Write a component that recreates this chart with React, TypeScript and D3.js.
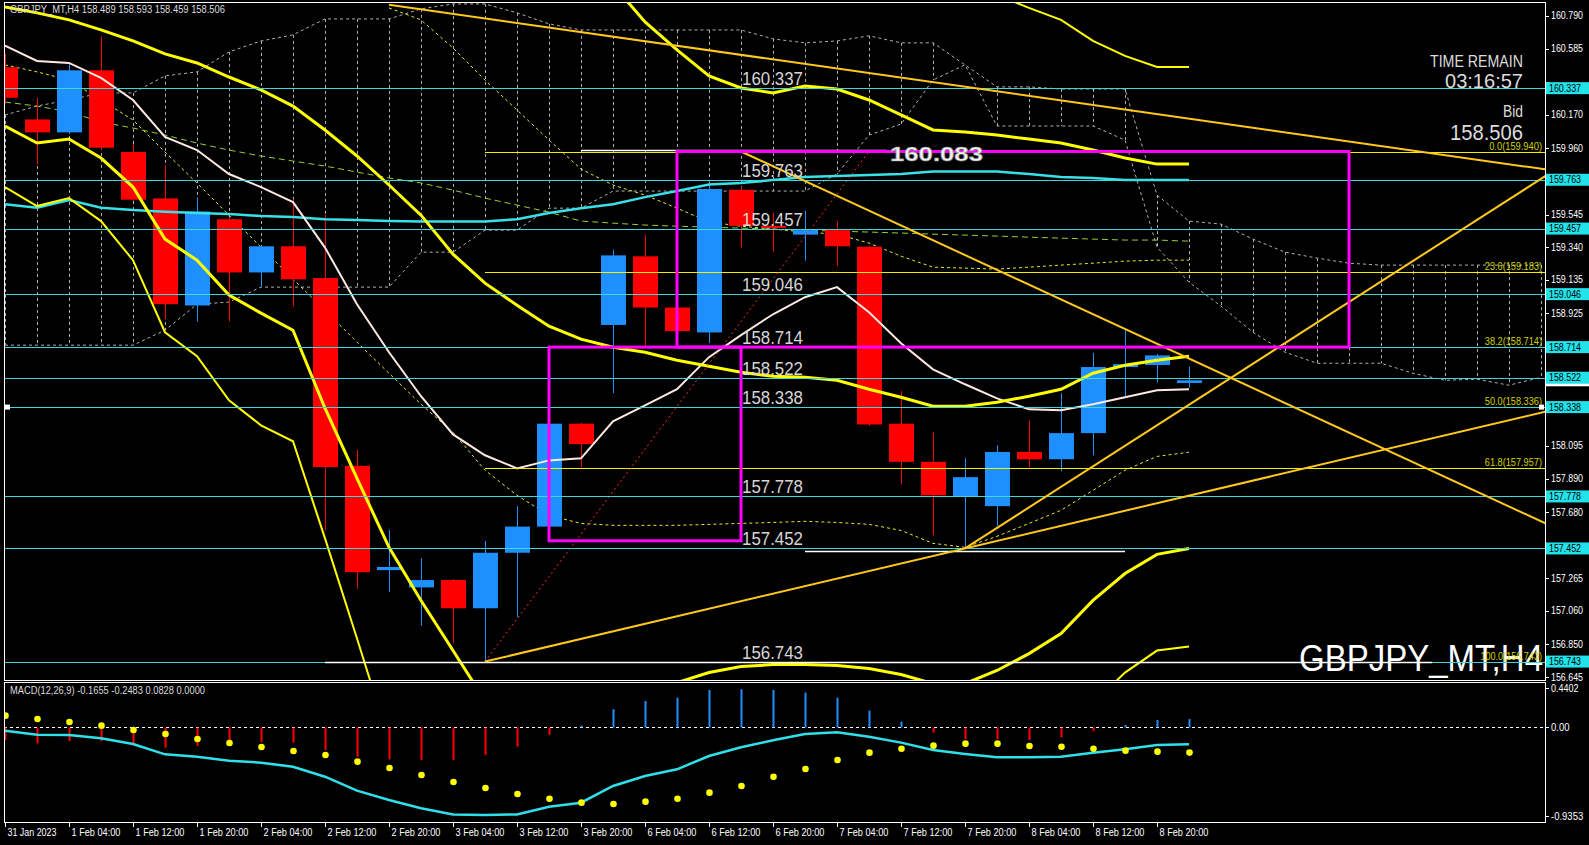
import React from "react";
import * as d3 from "d3";

// ---------- price data (H4 bars, 31 Jan 20:00 .. 9 Feb 00:00) ----------
const barOpen = [160.468,160.141,160.060,160.449,159.937,159.646,158.975,159.515,159.182,159.346,159.147,157.970,157.316,157.208,157.254,157.077,157.425,157.589,158.234,158.853,159.283,158.962,158.806,159.700,159.474,159.419,159.447,159.343,158.234,157.995,157.779,157.717,158.057,158.011,158.175,158.589,158.602,158.489];
const barHigh = [160.552,160.277,160.495,160.659,159.987,159.855,159.651,159.530,159.350,159.638,159.542,158.071,157.567,157.390,157.260,157.499,157.717,158.240,158.240,159.324,159.419,158.970,159.763,159.720,159.555,159.569,159.501,159.350,158.439,158.180,158.017,158.099,158.254,158.425,158.678,158.820,158.670,158.593];
const barLow = [160.240,159.855,160.050,159.950,159.630,158.889,158.875,158.875,159.092,158.971,157.567,157.199,157.180,156.968,156.859,156.743,157.022,157.580,157.962,158.425,158.711,158.805,158.739,159.338,159.311,159.256,159.224,158.220,157.853,157.534,157.452,157.594,157.962,157.936,158.036,158.406,158.493,158.459];
const barClose = [160.277,160.060,160.449,159.964,159.638,158.983,159.564,159.182,159.346,159.139,157.962,157.303,157.336,157.254,157.077,157.425,157.589,158.234,158.106,159.289,158.962,158.814,159.705,159.474,159.460,159.447,159.346,158.229,157.995,157.785,157.899,158.057,158.011,158.175,158.589,158.607,158.662,158.506];

const timeLabels = ["31 Jan 2023","1 Feb 04:00","1 Feb 12:00","1 Feb 20:00","2 Feb 04:00","2 Feb 12:00","2 Feb 20:00","3 Feb 04:00","3 Feb 12:00","3 Feb 20:00","6 Feb 04:00","6 Feb 12:00","6 Feb 20:00","7 Feb 04:00","7 Feb 12:00","7 Feb 20:00","8 Feb 04:00","8 Feb 12:00","8 Feb 20:00"];
const priceTicks = [160.790,160.585,160.375,160.170,159.960,159.755,159.545,159.340,159.135,158.925,158.720,158.510,158.305,158.095,157.890,157.680,157.475,157.265,157.060,156.850,156.645];

// ---------- indicators ----------
const bbMid = [160.846,160.809,160.765,160.702,160.633,160.552,160.495,160.407,160.326,160.225,160.075,159.912,159.730,159.541,159.297,159.115,158.977,158.845,158.764,158.713,158.682,158.632,158.594,158.557,158.531,158.525,158.506,158.450,158.400,158.343,158.343,158.368,158.406,158.450,158.550,158.600,158.632,158.657];
const bbUp2 = [null,null,null,null,null,null,null,null,null,null,null,null,null,null,null,null,null,null,null,160.985,160.752,160.577,160.414,160.338,160.307,160.351,160.332,160.263,160.169,160.075,160.062,160.043,160.018,159.993,159.949,159.899,159.861,159.861];
const bbLo2 = [160.100,159.993,160.018,159.899,159.717,159.391,159.259,159.040,158.927,158.820,158.331,157.891,157.459,157.126,156.812,156.498,156.310,156.216,156.279,156.404,156.530,156.611,156.674,156.712,156.724,156.724,156.718,156.699,156.662,156.605,156.605,156.687,156.793,156.919,157.126,157.295,157.415,157.452];
const bbUp3 = [null,null,null,null,null,null,null,null,null,null,null,null,null,null,null,null,null,null,null,null,null,null,null,null,null,null,null,null,null,null,null,160.922,160.840,160.765,160.633,160.539,160.470,160.470];
const bbLo3 = [159.717,159.598,159.648,159.504,159.259,158.807,158.657,158.381,158.224,158.124,157.515,156.888,156.248,null,null,null,null,null,null,null,null,null,null,null,null,null,null,null,null,null,null,null,null,null,156.480,156.674,156.812,156.837];
const tenkan = [160.604,160.508,160.495,160.401,160.263,160.031,159.949,159.799,159.717,159.623,159.338,158.983,158.682,158.406,158.167,158.036,157.954,158.004,158.017,158.249,158.349,158.450,158.651,158.789,158.920,159.027,159.090,158.933,158.738,158.575,158.481,158.393,158.324,158.318,158.356,158.400,158.444,158.450];
const kijun = [159.610,159.588,159.636,159.588,159.573,159.563,159.555,159.548,159.536,159.529,159.516,159.510,159.504,159.501,159.501,159.501,159.516,159.554,159.585,159.610,159.654,159.692,159.733,159.743,159.761,159.780,159.786,159.792,159.799,159.814,159.814,159.814,159.799,159.780,159.774,159.761,159.761,159.761];
const greenMa = [160.250,160.225,160.188,160.125,160.087,160.043,159.993,159.949,159.912,159.880,159.849,159.811,159.774,159.743,159.698,159.648,159.604,159.560,159.504,159.491,159.479,159.472,159.466,159.460,159.454,159.447,159.441,159.435,159.429,159.422,159.416,159.410,159.403,159.397,159.391,159.385,159.385,159.378];
const envLow = [160.483,160.439,160.388,160.263,160.138,159.937,159.742,159.541,159.341,159.140,158.945,158.745,158.550,158.356,158.180,157.942,157.785,157.659,157.609,157.597,157.597,157.597,157.603,157.609,157.615,157.622,157.615,157.603,157.565,157.484,157.459,157.528,157.609,157.691,157.816,157.942,158.029,158.055];
const envHigh = [null,null,null,null,null,null,null,null,null,null,null,null,160.840,160.765,160.589,160.388,160.200,160.012,159.830,159.730,159.667,159.585,159.498,159.472,159.454,159.435,159.422,159.366,159.284,159.215,159.209,159.203,159.215,159.228,159.240,159.253,159.259,159.259];
const spanTop = [160.169,160.225,160.263,160.307,160.307,160.414,160.439,160.564,160.633,160.671,160.771,160.771,160.771,160.834,160.865,160.865,160.809,160.740,160.702,160.702,160.702,160.702,160.702,160.702,160.646,160.621,160.633,160.665,160.621,160.621,160.483,160.345,160.345,160.332,160.332,160.332,159.667,159.504,159.485,159.391,159.309,159.272,159.240,159.228,159.228,159.228,159.228,159.228,159.228];
const spanBot = [158.726,158.726,158.726,158.726,158.726,158.820,158.983,158.996,159.090,159.090,159.090,159.090,159.090,159.309,159.309,159.447,159.447,159.585,159.585,159.692,159.692,159.692,159.692,159.692,159.692,159.692,159.799,160.043,160.112,160.388,160.483,160.100,160.100,160.100,160.100,160.012,159.341,159.121,158.971,158.807,158.682,158.613,158.613,158.613,158.550,158.506,158.513,158.475,158.525];

// ---------- MACD(12,26,9) ----------
const macdMain = [-0.031,-0.071,-0.074,-0.107,-0.163,-0.266,-0.289,-0.328,-0.348,-0.388,-0.487,-0.625,-0.718,-0.800,-0.860,-0.866,-0.860,-0.784,-0.744,-0.579,-0.480,-0.414,-0.282,-0.196,-0.127,-0.064,-0.048,-0.091,-0.150,-0.223,-0.262,-0.295,-0.295,-0.289,-0.249,-0.216,-0.173,-0.1655];
const macdSignal = [0.117,0.084,0.054,0.018,-0.025,-0.064,-0.114,-0.154,-0.193,-0.233,-0.272,-0.338,-0.401,-0.470,-0.540,-0.599,-0.658,-0.705,-0.744,-0.757,-0.734,-0.705,-0.645,-0.579,-0.487,-0.411,-0.322,-0.249,-0.210,-0.180,-0.160,-0.160,-0.183,-0.190,-0.210,-0.229,-0.239,-0.2483];
const macdHist = [-0.124,-0.157,-0.134,-0.134,-0.157,-0.200,-0.183,-0.183,-0.144,-0.150,-0.223,-0.289,-0.315,-0.322,-0.322,-0.272,-0.190,-0.074,0.018,0.180,0.262,0.295,0.371,0.378,0.371,0.345,0.295,0.167,0.058,-0.051,-0.114,-0.114,-0.124,-0.097,-0.035,0.025,0.074,0.0828];
const macdAxis = [0.4402, 0, -0.9353];
const macdAxisText = ["0.4402", "0.00", "-0.9353"];

// ---------- chart objects ----------
const hLevels = [160.337,159.763,159.457,159.046,158.714,158.522,158.338,157.778,157.452,156.743];
const fibNames = ["0.0","23.6","38.2","50.0","61.8","100.0"];
const fibPrices = [159.940,159.183,158.714,158.336,157.957,156.743];
const fibAnchor = [15, 156.743, 27, 159.940];
const trendLines = [
  [12, 160.860, 44, 159.946],
  [23, 159.940, 37, 158.642],
  [15, 156.743, 30, 157.452],
  [30, 157.452, 37, 158.353],
];
const whiteSegs = [
  [18, 27.55, 159.950],
  [10, 44.6, 156.743],
  [25, 35, 157.435],
];
const boxes = [
  [21, 159.940, 42, 158.714],
  [17, 158.714, 23, 157.500],
];
const bidPrice = 158.506;

const FONT = "'Liberation Sans', Arial, Helvetica, sans-serif";
const BULL = "#1E90FF";
const BEAR = "#FF0000";
const CYAN = "#3fd6da";
const GOLD = "#FFC81E";

export default function App() {
  const L = 4, T = 2, R = 1545, B = 680;
  const MT = 682, MB = 822;
  const x = d3.scaleLinear().domain([0, 37]).range([5, 1189]);
  const y = d3.scaleLinear().domain([156.645, 160.79]).range([677.2, 15.9]);
  const my = d3.scaleLinear().domain([-0.9353, 0.4402]).range([MB, MT + 1]);
  const lastBar = x.invert(R + 6);

  const lineOf = (vals: any[]) =>
    d3.line<any>().defined((v) => v !== null && v !== undefined).x((_, i) => x(i)).y((v) => y(v))(vals) || "";
  const macdLine = d3.line<number>().x((_, i) => x(i)).y((v) => my(v))(macdMain) || "";
  const px = (v: number) => Math.round(v) + 0.5;

  const rayEnd = (t: number[]) => {
    const [b1, p1, b2, p2] = t;
    const pEnd = p1 + ((p2 - p1) * (lastBar - b1)) / (b2 - b1);
    return [x(b1), y(p1), x(lastBar), y(pEnd)];
  };

  // axis ticks hidden behind the level boxes (as in the terminal) are not drawn
  const boxYs = [...hLevels, bidPrice].map((p) => y(p));
  const visibleTicks = priceTicks.filter((p) => boxYs.every((by) => Math.abs(by - y(p)) > 11));

  return (
    <svg width={1589} height={845} style={{ position: "fixed", left: 0, top: 0, background: "#000", fontFamily: FONT }}>
      <defs>
        <clipPath id="mainClip"><rect x={L + 1} y={T + 1} width={R - L - 1} height={B - T - 1} /></clipPath>
        <clipPath id="macdClip"><rect x={L + 1} y={MT + 1} width={R - L - 1} height={MB - MT - 1} /></clipPath>
      </defs>
      <rect x={0} y={0} width={1589} height={845} fill="#000" />

      <g clipPath="url(#mainClip)">
        {/* watermark */}
        <text x={1299} y={671} fontSize={36} fill="#ffffff" textLength={244} lengthAdjust="spacingAndGlyphs">GBPJPY_MT,H4</text>

        {/* cloud hatch */}
        {spanTop.map((v, i) => (
          <line key={"h" + i} x1={px(x(i))} x2={px(x(i))} y1={y(v)} y2={y(spanBot[i])} stroke="#b0b0b0" strokeWidth={1} strokeDasharray="3,3" />
        ))}
        <path d={lineOf(spanTop)} fill="none" stroke="#b0b0b0" strokeWidth={1} strokeDasharray="3,3" />
        <path d={lineOf(spanBot)} fill="none" stroke="#b0b0b0" strokeWidth={1} strokeDasharray="3,3" />

        {/* thin dashed lines */}
        <path d={lineOf(greenMa)} fill="none" stroke="#9acd32" strokeWidth={1} strokeDasharray="6,4" />
        <path d={lineOf(envHigh)} fill="none" stroke="#e8e830" strokeWidth={1} strokeDasharray="3,3" />
        <path d={lineOf(envLow)} fill="none" stroke="#e8e830" strokeWidth={1} strokeDasharray="3,3" />

        {/* candles */}
        {barOpen.map((o, i) => {
          const c = barClose[i];
          const col = c >= o ? BULL : BEAR;
          const cx = Math.round(x(i));
          const yT = y(Math.max(o, c));
          const yB = y(Math.min(o, c));
          return (
            <g key={"c" + i}>
              <line x1={cx + 0.5} x2={cx + 0.5} y1={y(barHigh[i])} y2={y(barLow[i])} stroke={col} strokeWidth={1} />
              <rect x={cx - 12} y={yT} width={25} height={Math.max(2, yB - yT)} fill={col} />
            </g>
          );
        })}

        {/* indicator lines */}
        <path d={lineOf(kijun)} fill="none" stroke="#38e0e8" strokeWidth={2.5} />
        <path d={lineOf(tenkan)} fill="none" stroke="#ffe9e2" strokeWidth={2} />
        <path d={lineOf(bbUp3)} fill="none" stroke="#ffff00" strokeWidth={2} />
        <path d={lineOf(bbLo3)} fill="none" stroke="#ffff00" strokeWidth={2} />
        <path d={lineOf(bbUp2)} fill="none" stroke="#ffff00" strokeWidth={3} />
        <path d={lineOf(bbLo2)} fill="none" stroke="#ffff00" strokeWidth={3} />
        <path d={lineOf(bbMid)} fill="none" stroke="#ffff00" strokeWidth={3} />

        {/* fibonacci */}
        {fibPrices.map((p, i) => (
          <line key={"f" + i} x1={x(fibAnchor[0])} x2={R} y1={px(y(p))} y2={px(y(p))} stroke="#f0f000" strokeWidth={1} />
        ))}
        <line x1={x(fibAnchor[0])} y1={y(fibAnchor[1])} x2={x(fibAnchor[2])} y2={y(fibAnchor[3])} stroke="#ff2a2a" strokeWidth={1} strokeDasharray="2,3" />

        {/* horizontal levels */}
        {hLevels.map((p, i) => (
          <line key={"l" + i} x1={L} x2={R} y1={px(y(p))} y2={px(y(p))} stroke={CYAN} strokeWidth={1} />
        ))}
        {whiteSegs.map((s, i) => (
          <line key={"w" + i} x1={x(s[0])} x2={x(s[1])} y1={px(y(s[2]))} y2={px(y(s[2]))} stroke="#ffffff" strokeWidth={1.5} />
        ))}

        {/* trend lines */}
        {trendLines.map((t, i) => {
          const [x1, y1, x2, y2] = rayEnd(t);
          return <line key={"t" + i} x1={x1} y1={y1} x2={x2} y2={y2} stroke={GOLD} strokeWidth={2} />;
        })}

        {/* rectangles */}
        {boxes.map((b, i) => (
          <rect key={"r" + i} x={x(b[0])} y={y(b[1])} width={x(b[2]) - x(b[0])} height={y(b[3]) - y(b[1])} fill="none" stroke="#ff00ff" strokeWidth={3} />
        ))}

        {/* level texts */}
        {hLevels.map((p, i) => (
          <text key={"lt" + i} x={742} y={y(p) - 3} fontSize={17.5} fill="#d6d6d6" textLength={61} lengthAdjust="spacingAndGlyphs">{p.toFixed(3)}</text>
        ))}
        {fibPrices.map((p, i) => {
          const s = `${fibNames[i]}(${p.toFixed(3)})`;
          return (
            <text key={"ft" + i} x={1542} y={y(p) - 2} fontSize={10} fill="#d2d200" textAnchor="end" textLength={s.length * 4.4} lengthAdjust="spacingAndGlyphs">{s}</text>
          );
        })}
        <text x={890} y={161} fontSize={21} fontWeight="bold" fill="#f2f2f2" stroke="#909090" strokeWidth={0.6} textLength={93} lengthAdjust="spacingAndGlyphs">160.083</text>

        {/* selection handles */}
        <rect x={5} y={y(158.338) - 2.5} width={5} height={5} fill="#ffffff" />
        <rect x={1539} y={y(158.338) - 2.5} width={5} height={5} fill="#ffffff" />

        {/* info texts */}
        <text x={10} y={13} fontSize={10} fill="#dcdcdc" textLength={215} lengthAdjust="spacingAndGlyphs">GBPJPY_MT,H4  158.489 158.593 158.459 158.506</text>
        <text x={1430} y={67} fontSize={17} fill="#dcdcdc" textLength={93} lengthAdjust="spacingAndGlyphs">TIME REMAIN</text>
        <text x={1445} y={88} fontSize={21} fill="#dcdcdc" textLength={78} lengthAdjust="spacingAndGlyphs">03:16:57</text>
        <text x={1503} y={117} fontSize={16} fill="#dcdcdc" textLength={20} lengthAdjust="spacingAndGlyphs">Bid</text>
        <text x={1450} y={140} fontSize={22} fill="#dcdcdc" textLength={73} lengthAdjust="spacingAndGlyphs">158.506</text>
      </g>

      {/* frames */}
      <rect x={L + 0.5} y={T + 0.5} width={R - L} height={B - T} fill="none" stroke="#ffffff" strokeWidth={1} />
      <rect x={L + 0.5} y={MT + 0.5} width={R - L} height={MB - MT} fill="none" stroke="#ffffff" strokeWidth={1} />

      {/* price axis */}
      {priceTicks.map((p, i) => (
        <line key={"ptk" + i} x1={R} x2={R + 4} y1={px(y(p))} y2={px(y(p))} stroke="#fff" />
      ))}
      {visibleTicks.map((p, i) => (
        <text key={"pt" + i} x={1551} y={y(p)} dy="0.35em" fontSize={10} fill="#ffffff" textLength={32} lengthAdjust="spacingAndGlyphs">{p.toFixed(3)}</text>
      ))}
      <rect x={R + 1} y={y(bidPrice) - 3} width={43} height={9} fill="#ffffff" />
      {hLevels.map((p, i) => (
        <g key={"pb" + i}>
          <rect x={R + 1} y={y(p) - 6} width={43} height={12} fill="#22e2ea" />
          <text x={1549} y={y(p)} dy="0.35em" fontSize={10} fill="#000" textLength={32} lengthAdjust="spacingAndGlyphs">{p.toFixed(3)}</text>
        </g>
      ))}

      {/* MACD panel */}
      <g clipPath="url(#macdClip)">
        <line x1={L} x2={R} y1={px(my(0))} y2={px(my(0))} stroke="#ffffff" strokeWidth={1} strokeDasharray="3,3" />
        {macdHist.map((v, i) => (
          <rect key={"mh" + i} x={Math.round(x(i)) - 0.5} y={Math.min(my(0), my(v))} width={2} height={Math.max(1, Math.abs(my(v) - my(0)))} fill={v >= 0 ? BULL : BEAR} />
        ))}
        <path d={macdLine} fill="none" stroke="#2fe0ea" strokeWidth={2.5} />
        {macdSignal.map((v, i) => (
          <circle key={"ms" + i} cx={x(i) + 0.5} cy={my(v)} r={3.3} fill="#ffff00" />
        ))}
        <text x={10} y={694} fontSize={10} fill="#dcdcdc" textLength={195} lengthAdjust="spacingAndGlyphs">MACD(12,26,9) -0.1655 -0.2483 0.0828 0.0000</text>
      </g>
      {macdAxis.map((v, i) => {
        const yy = i === 0 ? my(v) + 5 : i === 2 ? my(v) - 6 : my(v);
        const s = macdAxisText[i];
        return (
          <g key={"ma" + i}>
            <line x1={R} x2={R + 4} y1={px(yy)} y2={px(yy)} stroke="#fff" />
            <text x={1551} y={yy} dy="0.35em" fontSize={10} fill="#ffffff" textLength={s.length * 4.6} lengthAdjust="spacingAndGlyphs">{s}</text>
          </g>
        );
      })}

      {/* time axis */}
      {timeLabels.map((s, k) => {
        const xx = Math.round(x(k * 2)) + 0.5;
        return (
          <g key={"tl" + k}>
            <line x1={xx} x2={xx} y1={MB} y2={MB + 5} stroke="#fff" />
            <text x={xx + 2} y={836} fontSize={10} fill="#ffffff" textLength={s.length * 4.45} lengthAdjust="spacingAndGlyphs">{s}</text>
          </g>
        );
      })}
    </svg>
  );
}
